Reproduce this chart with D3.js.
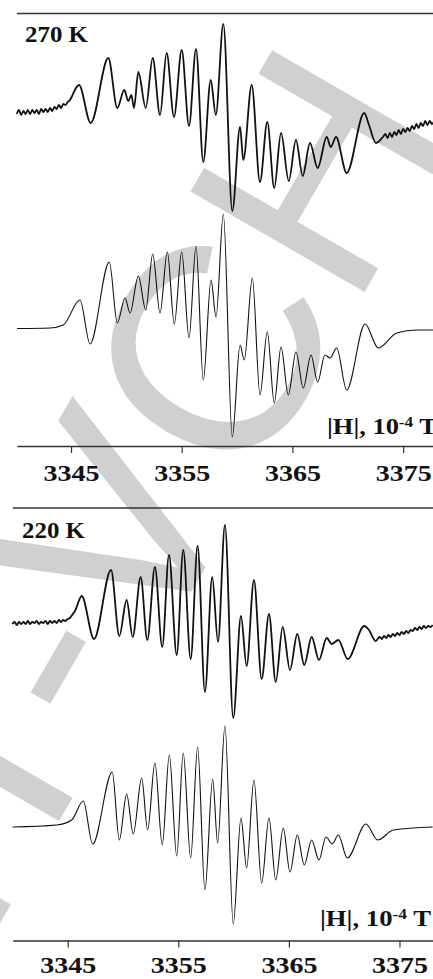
<!DOCTYPE html>
<html>
<head>
<meta charset="utf-8">
<script src="https://cdn.jsdelivr.net/npm/d3@7"></script>
<style>
  body { margin: 0; background: #fff; }
  svg { display: block; }
</style>
</head>
<body>
<div class="chart"></div>
<script>
// EPR spectra, experimental (noisy) and simulated, at two temperatures

var tempLabels = ["270 K", "220 K"];
var tickValues = [3345, 3355, 3365, 3375];
var tickLabels = ["3345", "3355", "3365", "3375"];
var unitLabel = ["|H|, 10", "-4", " T"];

// 270 K experimental: field (10^-4 T) and intensity (a.u.)
var fieldExp270 = [3340.1, 3340.3, 3340.5, 3340.7, 3340.9, 3341.1, 3341.3, 3341.5, 3341.7, 3341.9,
  3342.1, 3342.3, 3342.5, 3342.7, 3342.9, 3343.1, 3343.3, 3343.5, 3343.7, 3343.9,
  3344.1, 3344.3, 3344.5, 3344.7, 3344.9, 3345.1, 3345.3,
  3345.72, 3346.78, 3348.37, 3349.18, 3349.81, 3350.18, 3350.45, 3350.69, 3351.08, 3351.75,
  3352.38, 3353.04, 3353.64, 3354.30, 3355.00, 3355.66, 3356.29, 3356.95, 3357.62, 3358.08,
  3358.76, 3359.57, 3360.27, 3360.56, 3361.32, 3362.07, 3362.73, 3363.36, 3363.97, 3364.67,
  3365.32, 3365.93, 3366.59, 3367.28, 3368.10, 3368.46, 3368.94, 3369.90, 3371.49, 3371.92,
  3372.55, 3373.18,
  3373.4, 3373.6, 3373.8, 3374.0, 3374.2, 3374.4, 3374.6, 3374.8, 3375.0, 3375.2, 3375.4,
  3375.6, 3375.8, 3376.0, 3376.2, 3376.4, 3376.6, 3376.8, 3377.0, 3377.2, 3377.4, 3377.6, 3377.8];
var intExp270 = [4, 8, 3, 7, 4, 8, 4, 8, 5, 8,
  4, 9, 6, 9, 6, 10, 7, 11, 9, 13,
  10, 14, 13, 16, 18, 22, 27,
  33, -5, 60, 10, 28, 17, 23, 10, 46, 10,
  60, 3, 65, 1, 68, -8, 69, -44, 38, 3,
  94, -93, -9, -42, 33, -64, -4, -70, -15, -63,
  -22, -58, -25, -50, -19, -29, -19, -55, 5, -7,
  -25, -19,
  -16, -20, -15, -19, -14, -17, -12, -16, -11, -14, -10,
  -13, -8, -11, -6, -10, -5, -8, -3, -7, -3, -6, -3];

// 270 K simulation
var fieldSim270 = [3340.12, 3343.10, 3344.30, 3345.81, 3346.72, 3348.46, 3349.18, 3349.88, 3350.33,
  3351.08, 3351.75, 3352.38, 3353.04, 3353.70, 3354.33, 3355.00, 3355.66, 3356.29, 3356.95,
  3357.65, 3358.10, 3358.76, 3359.57, 3360.27, 3360.65, 3361.38, 3362.07, 3362.73, 3363.36,
  3363.97, 3364.63, 3365.32, 3365.98, 3366.68, 3367.28, 3367.94, 3368.40, 3369.00, 3369.90,
  3371.56, 3372.76, 3374.42, 3376.23, 3377.70];
var intSim270 = [0.5, 1, 4, 29, -15, 67, 6, 31, 16,
  53, 19, 75, 16, 77, 5, 77, -9, 83, -51,
  49, 12, 115, -108, -16, -31, 51, -66, -3, -74,
  -18, -66, -23, -59, -26, -53, -26, -29, -19, -61,
  5, -19, -4, -1, -1];

// 220 K experimental
var fieldExp220 = [3340.0, 3340.2, 3340.4, 3340.6, 3340.8, 3341.0, 3341.2, 3341.4, 3341.6, 3341.8,
  3342.0, 3342.2, 3342.4, 3342.6, 3342.8, 3343.0, 3343.2, 3343.4, 3343.6, 3343.8,
  3344.0, 3344.2, 3344.4, 3344.6, 3344.8, 3345.0, 3345.2, 3345.4, 3345.66,
  3346.27, 3347.38, 3348.92, 3349.67, 3350.33, 3350.88, 3351.60, 3352.20, 3352.89, 3353.55,
  3354.16, 3354.86, 3355.45, 3356.12, 3356.75, 3357.41, 3358.07, 3358.59, 3359.22, 3359.97,
  3360.67, 3361.18, 3361.84, 3362.54, 3363.20, 3363.81, 3364.44, 3365.10, 3365.76, 3366.39,
  3367.06, 3367.72, 3368.42, 3368.87, 3369.47, 3370.32, 3371.82, 3372.24, 3372.85,
  3373.2, 3373.4, 3373.6, 3373.8, 3374.0, 3374.2, 3374.4, 3374.6, 3374.8, 3375.0, 3375.2,
  3375.4, 3375.6, 3375.8, 3376.0, 3376.2, 3376.4, 3376.6, 3376.8, 3377.0, 3377.2, 3377.4,
  3377.6, 3377.8, 3378.0];
var intExp220 = [1, 3, 0, 3, 1, 3, 1, 4, 1, 3,
  2, 4, 1, 3, 2, 4, 1, 4, 2, 4,
  2, 5, 3, 5, 4, 6, 7, 10, 14,
  29, -14, 55, -11, 25, -12, 48, -15, 58, -22,
  70, -30, 75, -34, 79, -67, 48, -17, 100, -93,
  9, -41, 45, -54, 11, -57, -2, -45, -9, -40,
  -12, -35, -13, -19, -15, -34, -1, -5, -16,
  -12, -14, -11, -13, -10, -12, -9, -11, -8, -10, -7,
  -9, -6, -8, -5, -6, -3, -5, -2, -4, -1, -3,
  -1, -2, 0];

// 220 K simulation
var fieldSim220 = [3340.03, 3344.01, 3345.36, 3346.41, 3347.26, 3349.03, 3349.67, 3350.33, 3350.93,
  3351.69, 3352.23, 3352.89, 3353.55, 3354.19, 3354.86, 3355.45, 3356.12, 3356.75, 3357.41,
  3358.11, 3358.56, 3359.22, 3359.97, 3360.67, 3361.18, 3361.84, 3362.54, 3363.20, 3363.81,
  3364.49, 3365.10, 3365.76, 3366.39, 3367.06, 3367.72, 3368.35, 3368.92, 3369.47, 3370.28,
  3371.97, 3373.03, 3374.44, 3378.00];
var intSim220 = [0, 2, 7, 26, -17, 55, -13, 33, -7,
  49, -3, 64, -18, 72, -29, 74, -31, 80, -63,
  48, -16, 101, -97, 9, -41, 47, -56, 9, -53,
  -1, -45, -8, -38, -13, -33, -10, -17, -8, -31,
  3, -13, -3, 0];

var svgWidth = 433;
var svgHeight = 979;

var svg = d3.select(".chart")
  .append("svg")
  .attr("width", svgWidth)
  .attr("height", svgHeight);

// grey publisher watermark behind everything, clipped to the page
svg.append("clipPath").attr("id", "page")
  .append("rect").attr("width", svgWidth).attr("height", svgHeight);

svg.append("g")
  .attr("clip-path", "url(#page)")
  .append("text")
  .attr("transform", "translate(458,130) rotate(-60)")
  .attr("text-anchor", "end")
  .style("font-family", "'Liberation Sans', Arial, sans-serif")
  .style("font-size", "292px")
  .attr("fill", "#d0d0d0")
  .text("WILEY-VCH");

var panels = [
  {
    label: tempLabels[0], topY: 13.5, axisY: 446, left: 17, domain: [3340.12, 3377.70],
    labelX: 25, labelY: 42, unitX: 327, unitY: 434, unitLen: 110, tickLabelY: 481,
    traces: [
      {field: fieldExp270, intensity: intExp270, y0: 118, width: 1.8},
      {field: fieldSim270, intensity: intSim270, y0: 329, width: 1.1}
    ]
  },
  {
    label: tempLabels[1], topY: 508, axisY: 940.5, left: 12.7, domain: [3340.03, 3378.03],
    labelX: 22, labelY: 538, unitX: 320, unitY: 926, unitLen: 111, tickLabelY: 973,
    traces: [
      {field: fieldExp220, intensity: intExp220, y0: 625, width: 1.8},
      {field: fieldSim220, intensity: intSim220, y0: 827, width: 1.1}
    ]
  }
];

var serif = "'Liberation Serif', 'Times New Roman', serif";

panels.forEach(function(p) {
  var g = svg.append("g");

  var xScale = d3.scaleLinear()
    .domain(p.domain)
    .range([p.left, svgWidth]);

  // top rule
  g.append("line")
    .attr("x1", p.left).attr("x2", svgWidth)
    .attr("y1", p.topY).attr("y2", p.topY)
    .attr("stroke", "#333").attr("stroke-width", 1.5);

  // spectra
  p.traces.forEach(function(t) {
    var yScale = d3.scaleLinear()
      .domain([-100, 100])
      .range([t.y0 + 100, t.y0 - 100]);

    var line = d3.line()
      .x(function(d, i) { return xScale(t.field[i]); })
      .y(function(d) { return yScale(d); })
      .curve(d3.curveMonotoneX);

    g.append("path")
      .attr("d", line(t.intensity))
      .attr("fill", "none")
      .attr("stroke", "#111")
      .attr("stroke-width", t.width)
      .attr("stroke-linejoin", "round");
  });

  // bottom field axis
  var axis = d3.axisBottom(xScale)
    .tickValues(tickValues)
    .tickSize(7)
    .tickSizeOuter(0)
    .tickFormat(function(d, i) { return tickLabels[i]; });

  var axisG = g.append("g")
    .attr("transform", "translate(0," + p.axisY + ")")
    .call(axis);

  axisG.select(".domain").attr("stroke", "#333").attr("stroke-width", 1.5);
  axisG.selectAll(".tick line").attr("stroke", "#333").attr("stroke-width", 1.2);
  axisG.selectAll(".tick text")
    .attr("y", p.tickLabelY - p.axisY)
    .attr("dy", 0)
    .attr("fill", "#111")
    .style("font-family", serif)
    .style("font-weight", "bold")
    .style("font-size", "23px")
    .attr("textLength", 56)
    .attr("lengthAdjust", "spacingAndGlyphs");

  // temperature label
  g.append("text")
    .attr("x", p.labelX)
    .attr("y", p.labelY)
    .attr("fill", "#111")
    .style("font-family", serif)
    .style("font-weight", "bold")
    .style("font-size", "23px")
    .attr("textLength", 63)
    .attr("lengthAdjust", "spacingAndGlyphs")
    .text(p.label);

  // field unit label
  var unit = g.append("text")
    .attr("x", p.unitX)
    .attr("y", p.unitY)
    .attr("fill", "#111")
    .attr("textLength", p.unitLen)
    .attr("lengthAdjust", "spacingAndGlyphs")
    .style("font-family", serif)
    .style("font-weight", "bold")
    .style("font-size", "23px");
  unit.append("tspan").text(unitLabel[0]);
  unit.append("tspan").attr("dy", -7).style("font-size", "15px").text(unitLabel[1]);
  unit.append("tspan").attr("dy", 7).text(unitLabel[2]);
});
</script>
</body>
</html>
